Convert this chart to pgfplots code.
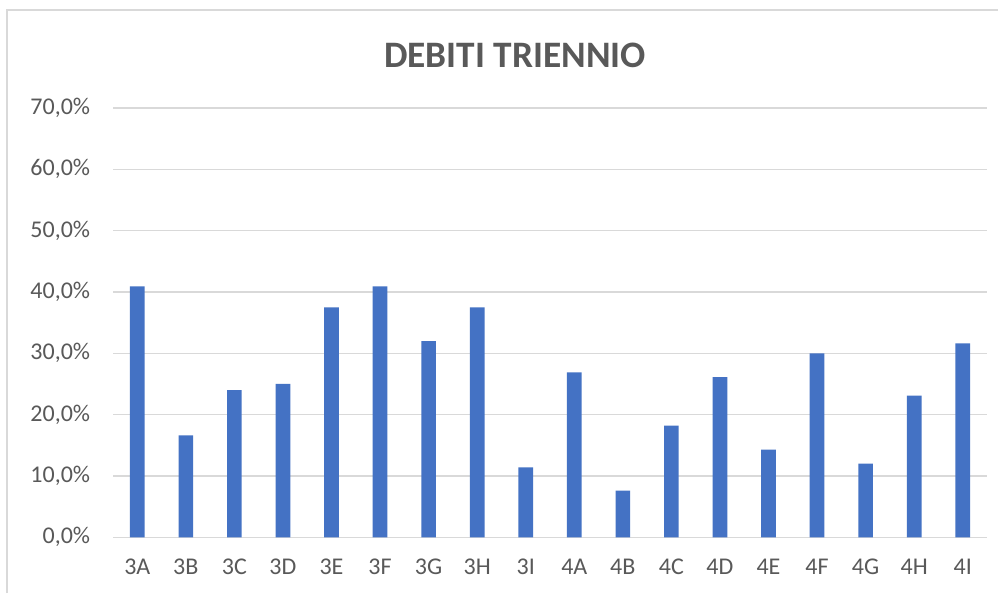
\documentclass[border=0pt]{standalone}
\usepackage{fontspec}
\setmainfont{Carlito}
\usepackage{pgfplots}
\pgfplotsset{compat=1.18}
\definecolor{barblue}{HTML}{4472C4}
\definecolor{txtgray}{HTML}{595959}
\definecolor{gridgray}{HTML}{D9D9D9}
\begin{document}
\begin{tikzpicture}[x=0.75pt,y=0.75pt]
\path[use as bounding box] (0,0) rectangle (998,593);
\fill[white] (0,0) rectangle (998,593);
\draw[gridgray, line width=1.1pt] (7,0) -- (7,583) -- (998,583);
\node[txtgray, font=\fontsize{28}{32}\selectfont\bfseries] at (515,538) {DEBITI TRIENNIO};
\begin{axis}[
  at={(84.75pt,41.8pt)}, anchor=south west,
  scale only axis, width=655.5pt, height=322pt,
  xmin=-0.5, xmax=17.5, ymin=0, ymax=70,
  axis line style={draw=none},
  major tick length=0pt,
  ymajorgrids, grid style={gridgray, line width=1.1pt},
  ytick={0,10,20,30,40,50,60,70},
  yticklabels={{0,0\%},{10,0\%},{20,0\%},{30,0\%},{40,0\%},{50,0\%},{60,0\%},{70,0\%}},
  xtick={0,...,17},
  xticklabels={3A,3B,3C,3D,3E,3F,3G,3H,3I,4A,4B,4C,4D,4E,4F,4G,4H,4I},
  tick label style={txtgray, font=\fontsize{18}{20}\selectfont, inner sep=0pt},
  yticklabel style={anchor=east, xshift=-17pt},
  xticklabel style={anchor=north, yshift=-16pt},
  clip=false,
]
\addplot[ybar, bar width=11pt, fill=barblue, draw=none] coordinates {
(0,40.9) (1,16.6) (2,24.0) (3,25.0) (4,37.5) (5,40.9) (6,32.0) (7,37.5) (8,11.4)
(9,26.9) (10,7.6) (11,18.2) (12,26.1) (13,14.3) (14,30.0) (15,12.0) (16,23.1) (17,31.6)
};
\end{axis}
\end{tikzpicture}
\end{document}
